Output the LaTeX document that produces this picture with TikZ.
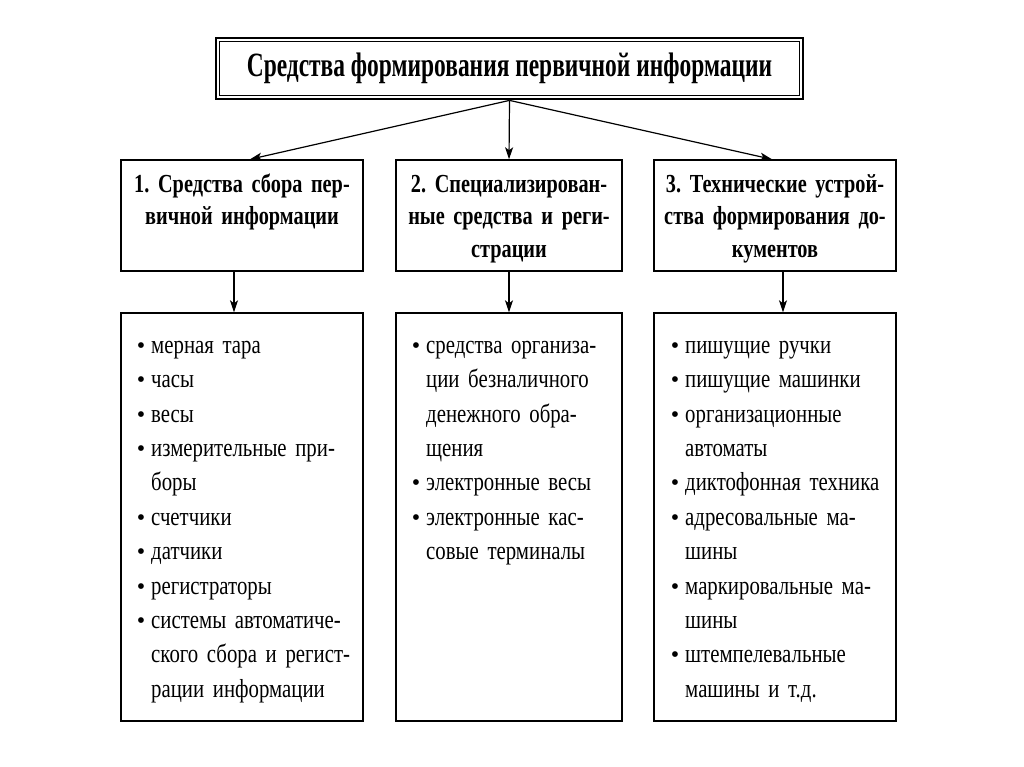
\documentclass[tikz,border=0pt]{standalone}
\usepackage{fontspec}
\setmainfont{Liberation Serif}
\newfontfamily\itemfont[FakeStretch=0.8]{Liberation Serif}
\newfontfamily\headfont[FakeStretch=0.78]{Liberation Serif}
\newfontfamily\titlefont[FakeStretch=0.69]{Liberation Serif}
\usetikzlibrary{arrows.meta,calc}
\newcommand\bul{\leavevmode\llap{{\rmfamily\fontsize{24}{24}\selectfont\textbullet}\hspace{6pt}}}
\newcommand\jl[1]{\leavevmode\makebox[\linewidth][s]{#1}}
\hyphenpenalty=10000
\frenchspacing
\begin{document}
\begin{tikzpicture}[x=1pt,y=-1pt,
  box/.style={draw=black,line width=1.4pt,inner sep=0pt},
  arr/.style={draw=black,line width=1.2pt,-{Stealth[length=12pt,width=8pt,inset=3pt]}},
  headtxt/.style={inner sep=0pt,text width=#1,align=center,anchor=north,
    font=\headfont\fontsize{26}{32.5}\selectfont\bfseries},
  lsttxt/.style={inner sep=0pt,text width=#1,align=left,anchor=north west,
    font=\itemfont\fontsize{26}{34.4}\selectfont},
]
\useasboundingbox (0,0) rectangle (1024,767);
\fill[white] (0,0) rectangle (1024,767);

% title
\node[box,line width=2.8pt,minimum width=587pt,minimum height=61pt] (title) at (509.5,68.5) {};
\draw[line width=1.1pt] ([shift={(4.5,4.5)}]title.north west) rectangle ([shift={(-4.5,-4.5)}]title.south east);
\node[inner sep=0pt,anchor=base,font=\titlefont\fontsize{34}{38}\selectfont\bfseries] (titletxt) at (509.5,77) {Средства формирования первичной информации};

% heading boxes
\node[box,minimum width=242pt,minimum height=111pt] (h1) at (242,215.5) {};
\node[box,minimum width=226pt,minimum height=111pt] (h2) at (509,215.5) {};
\node[box,minimum width=242pt,minimum height=111pt] (h3) at (775,215.5) {};

\node[headtxt=236pt] (ht1) at (242,169.3) {\strut 1. Средства сбора пер-\\вичной информации};
\node[headtxt=222pt] (ht2) at (509,169.3) {\strut 2. Специализирован-\\ные средства и реги-\\страции};
\node[headtxt=236pt] (ht3) at (775,169.3) {\strut 3. Технические устрой-\\ства формирования до-\\кументов};

% list boxes
\node[box,minimum width=242pt,minimum height=408pt] (l1) at (242,517) {};
\node[box,minimum width=226pt,minimum height=408pt] (l2) at (509,517) {};
\node[box,minimum width=242pt,minimum height=408pt] (l3) at (775,517) {};

\node[lsttxt=201pt] (lt1) at (151,329) {\strut\bul мерная тара\\
\bul часы\\
\bul весы\\
\bul\jl{измерительные при-}\\
боры\\
\bul счетчики\\
\bul датчики\\
\bul регистраторы\\
\bul\jl{системы автоматиче-}\\
\jl{ского сбора и регист-}\\
рации информации};

\node[lsttxt=181pt] (lt2) at (426,329) {\strut\bul\jl{средства организа-}\\
\jl{ции безналичного}\\
\jl{денежного обра-}\\
щения\\
\bul электронные весы\\
\bul\jl{электронные кас-}\\
совые терминалы};

\node[lsttxt=197pt] (lt3) at (685,329) {\strut\bul пишущие ручки\\
\bul пишущие машинки\\
\bul организационные\\
автоматы\\
\bul диктофонная техника\\
\bul\jl{адресовальные ма-}\\
шины\\
\bul\jl{маркировальные ма-}\\
шины\\
\bul штемпелевальные\\
машины и т.д.};

% connectors
\draw[arr] (title.south) -- ([xshift=8pt]h1.north);
\draw[arr] (title.south) -- (h2.north);
\draw[arr] (title.south) -- ([xshift=-3pt]h3.north);
\draw[arr] ([xshift=-8pt]h1.south) -- ([xshift=-8pt]l1.north);
\draw[arr] (h2.south) -- (l2.north);
\draw[arr] ([xshift=8pt]h3.south) -- ([xshift=8pt]l3.north);
\end{tikzpicture}
\end{document}
